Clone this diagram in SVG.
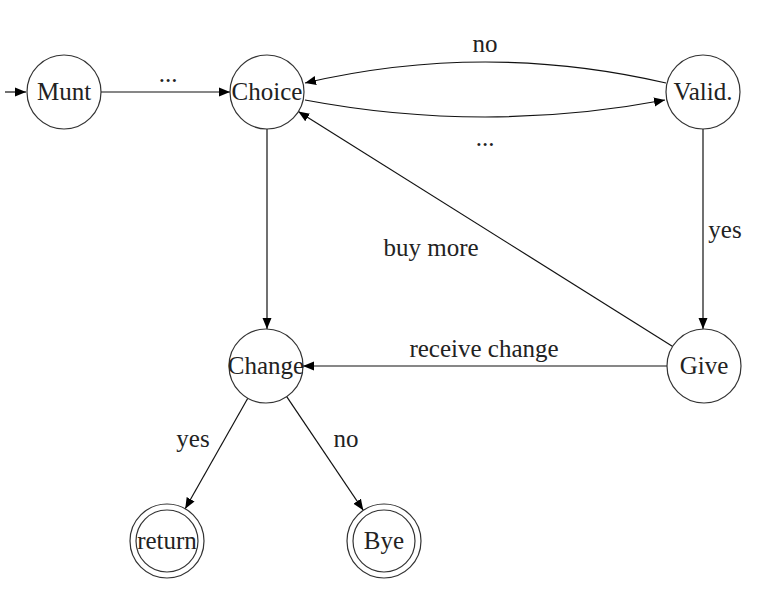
<svg xmlns="http://www.w3.org/2000/svg" width="777" height="594" viewBox="0 0 777 594">
<style>
.n{fill:#fff;stroke:#333;stroke-width:1.2}
.t{font-family:"Liberation Serif","Times New Roman",serif;font-size:25px;fill:#222;text-anchor:middle}
.e{fill:none;stroke:#111;stroke-width:1.2}
.l{font-family:"Liberation Serif","Times New Roman",serif;font-size:25px;fill:#222;text-anchor:middle}
</style>
<defs>
<marker id="a" markerUnits="userSpaceOnUse" markerWidth="12" markerHeight="10" refX="11" refY="5" orient="auto">
<path d="M0,0.5 L11,5 L0,9.5 z" fill="#000"/>
</marker>
</defs>
<rect width="777" height="594" fill="#fff"/>
<g id="connectors">
<line class="e" x1="5" y1="92" x2="26" y2="92" marker-end="url(#a)"/>
<line class="e" x1="101" y1="92" x2="230" y2="92" marker-end="url(#a)"/>
<text class="l" x="168" y="82">...</text>
<path class="e" d="M305,100 Q485,134 665,100" marker-end="url(#a)"/>
<text class="l" x="485" y="146">...</text>
<path class="e" d="M666,83 Q485,41 305,83" marker-end="url(#a)"/>
<text class="l" x="485" y="52">no</text>
<line class="e" x1="267" y1="129" x2="267" y2="329" marker-end="url(#a)"/>
<line class="e" x1="703" y1="129" x2="703" y2="329" marker-end="url(#a)"/>
<text class="l" x="725" y="238">yes</text>
<line class="e" x1="672.7" y1="346.4" x2="298.3" y2="111.6" marker-end="url(#a)"/>
<text class="l" x="431" y="256">buy more</text>
<line class="e" x1="667" y1="366" x2="303" y2="366" marker-end="url(#a)"/>
<text class="l" x="484" y="357">receive change</text>
<line class="e" x1="247.8" y1="398.2" x2="185.2" y2="508.8" marker-end="url(#a)"/>
<text class="l" x="193" y="447">yes</text>
<line class="e" x1="286.7" y1="396.7" x2="363.3" y2="510.3" marker-end="url(#a)"/>
<text class="l" x="346" y="447">no</text>
</g>
<g id="munt"><circle class="n" cx="64" cy="92" r="37"/><text class="t" x="64" y="100">Munt</text></g>
<g id="choice"><circle class="n" cx="267" cy="92" r="37"/><text class="t" x="267" y="100">Choice</text></g>
<g id="valid"><circle class="n" cx="703" cy="92" r="37"/><text class="t" x="703" y="100">Valid.</text></g>
<g id="change"><circle class="n" cx="266" cy="366" r="37"/><text class="t" x="266" y="374">Change</text></g>
<g id="give"><circle class="n" cx="704" cy="366" r="37"/><text class="t" x="704" y="374">Give</text></g>
<g id="return"><circle class="n" cx="167" cy="541" r="37"/><circle class="n" cx="167" cy="541" r="31"/><text class="t" x="167" y="549">return</text></g>
<g id="bye"><circle class="n" cx="384" cy="541" r="37"/><circle class="n" cx="384" cy="541" r="31"/><text class="t" x="384" y="549">Bye</text></g>
</svg>
